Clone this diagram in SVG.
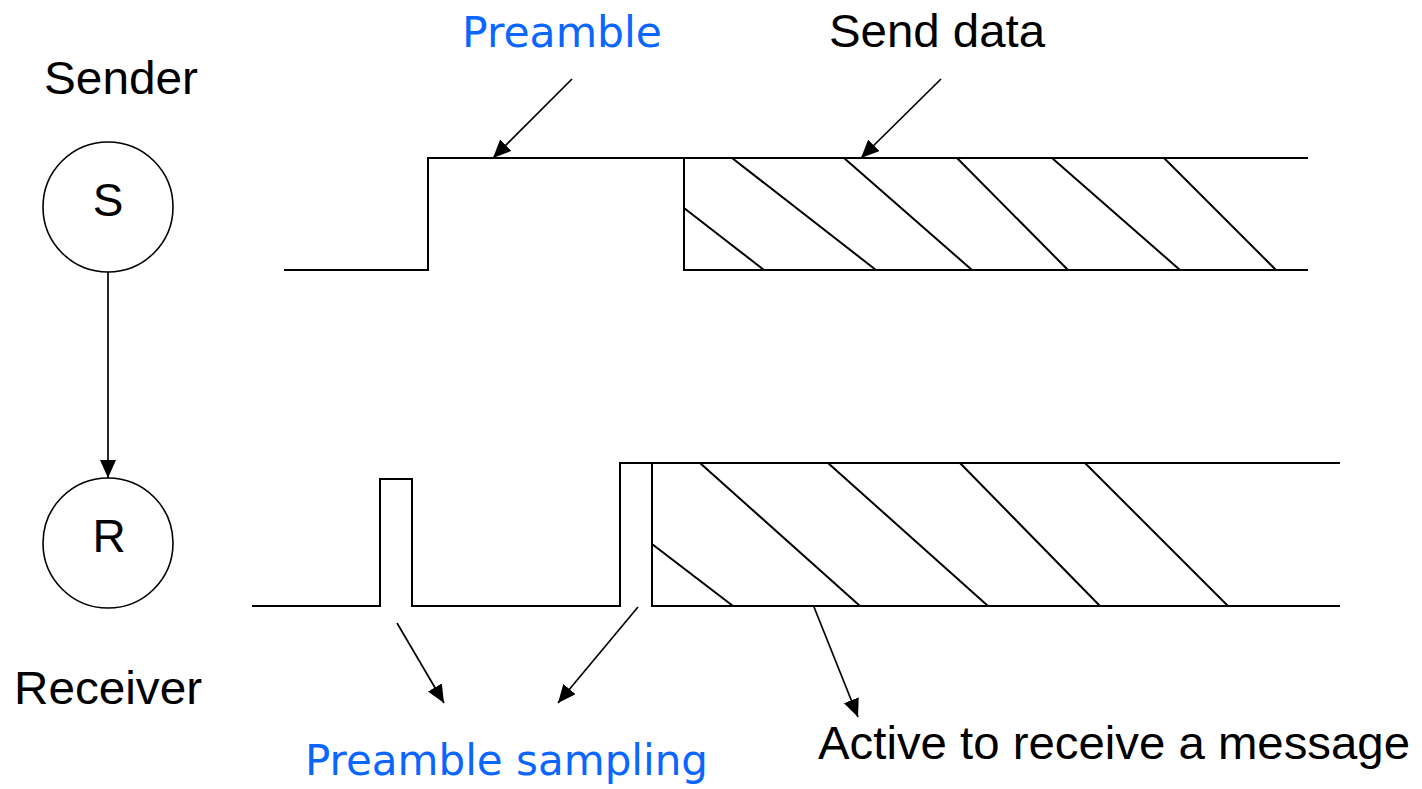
<svg xmlns="http://www.w3.org/2000/svg" width="1422" height="789" viewBox="0 0 1422 789">
<style>
.w{fill:none;stroke:#000;stroke-width:2;stroke-linejoin:miter}
.h{stroke:#000;stroke-width:2}
.c{stroke:#000;stroke-width:1.7;fill:none;marker-end:url(#ah)}
.t{font-family:"Liberation Sans",Arial,sans-serif;font-size:46px;fill:#000}
.b{font-family:"DejaVu Sans",sans-serif;font-size:42px;fill:#0A66FF}
.n{fill:#fff;stroke:#000;stroke-width:1.6}
</style>
<defs>
<marker id="ah" markerUnits="userSpaceOnUse" markerWidth="20" markerHeight="18" refX="18" refY="8" orient="auto">
<path d="M0,0 L18,8 L0,16 z" fill="#000"/>
</marker>
</defs>
<rect width="1422" height="789" fill="#fff"/>
<g id="sender">
<circle class="n" cx="108" cy="207" r="65"/>
<text class="t" x="108" y="216" text-anchor="middle">S</text>
<text class="t" x="44" y="94" textLength="154" lengthAdjust="spacingAndGlyphs">Sender</text>
</g>
<g id="receiver">
<circle class="n" cx="108" cy="543" r="65"/>
<text class="t" x="109" y="552" text-anchor="middle">R</text>
<text class="t" x="14" y="704" textLength="188" lengthAdjust="spacingAndGlyphs">Receiver</text>
</g>
<g id="sender-signal">
<polyline class="w" points="284,270 428,270 428,158 1308,158"/>
<polyline class="w" points="684,158 684,270 1308,270"/>
<line class="h" x1="684" y1="208" x2="764" y2="270"/>
<line class="h" x1="732" y1="158" x2="876" y2="270"/>
<line class="h" x1="844" y1="158" x2="972" y2="270"/>
<line class="h" x1="957" y1="158" x2="1068" y2="270"/>
<line class="h" x1="1052" y1="158" x2="1180" y2="270"/>
<line class="h" x1="1164" y1="158" x2="1276" y2="270"/>
</g>
<g id="receiver-signal">
<polyline class="w" points="252,606 380,606 380,479 412,479 412,606 620,606 620,463 1340,463"/>
<polyline class="w" points="652,463 652,606 1340,606"/>
<line class="h" x1="652" y1="544" x2="733" y2="606"/>
<line class="h" x1="700" y1="463" x2="860" y2="606"/>
<line class="h" x1="828" y1="463" x2="988" y2="606"/>
<line class="h" x1="960" y1="463" x2="1100" y2="606"/>
<line class="h" x1="1085" y1="463" x2="1228" y2="606"/>
</g>
<g id="labels">
<text class="b" x="462" y="47" textLength="200" lengthAdjust="spacingAndGlyphs">Preamble</text>
<text class="t" x="829" y="47" textLength="216" lengthAdjust="spacingAndGlyphs">Send data</text>
<text class="b" x="305" y="775" textLength="403" lengthAdjust="spacingAndGlyphs">Preamble sampling</text>
<text class="t" x="818" y="759" textLength="592" lengthAdjust="spacingAndGlyphs">Active to receive a message</text>
</g>
<g id="connectors">
<line class="c" x1="108" y1="272" x2="108" y2="478"/>
<line class="c" x1="572" y1="79" x2="493" y2="158"/>
<line class="c" x1="941" y1="79" x2="861" y2="158"/>
<line class="c" x1="397" y1="623" x2="444" y2="703"/>
<line class="c" x1="638" y1="607" x2="558" y2="703"/>
<line class="c" x1="814" y1="607" x2="858" y2="717"/>
</g>
</svg>
